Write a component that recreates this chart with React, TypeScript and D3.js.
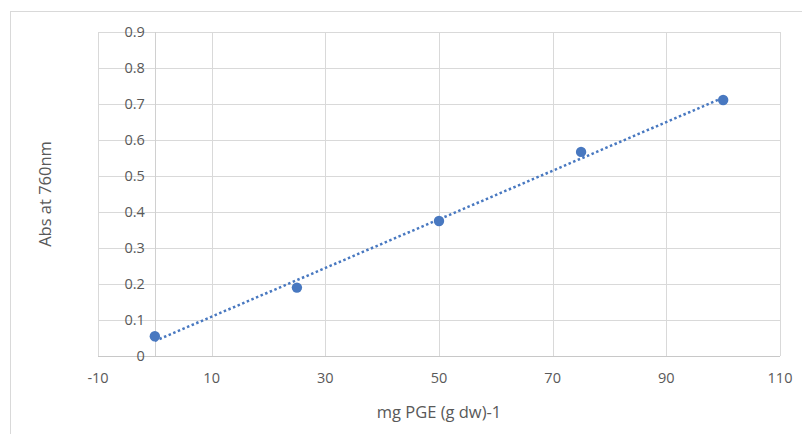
import React, { useEffect, useRef } from "react";
import * as d3 from "d3";

const xValues = [0, 25, 50, 75, 100];
const yValues = [0.055, 0.19, 0.375, 0.567, 0.711];
const xTicks = [-10, 10, 30, 50, 70, 90, 110];
const yTicks = [0, 0.1, 0.2, 0.3, 0.4, 0.5, 0.6, 0.7, 0.8, 0.9];
const xTitle = "mg PGE (g dw)-1";
const yTitle = "Abs at 760nm";

const W = 802;
const H = 434;
const FONT = "'Open Sans', Lato, sans-serif";

export default function App() {
  const ref = useRef<SVGSVGElement>(null);

  useEffect(() => {
    const svg = d3.select(ref.current);
    svg.selectAll("*").remove();

    const margin = { top: 32, left: 98, right: W - 780, bottom: H - 356 };
    const width = W - margin.left - margin.right;
    const height = H - margin.top - margin.bottom;

    // chart frame
    svg.append("rect")
      .attr("x", 10.5)
      .attr("y", 11.5)
      .attr("width", W)
      .attr("height", H)
      .attr("fill", "#fff")
      .attr("stroke", "#d9d9d9");

    const g = svg.append("g")
      .attr("transform", `translate(${margin.left}, ${margin.top})`);

    const x = d3.scaleLinear().domain([-10, 110]).range([0, width]);
    const y = d3.scaleLinear().domain([0, 0.9]).range([height, 0]);

    // grid
    g.selectAll(".vgrid")
      .data(xTicks)
      .join("line")
      .attr("x1", (d) => Math.round(x(d)) + 0.5)
      .attr("x2", (d) => Math.round(x(d)) + 0.5)
      .attr("y1", 0)
      .attr("y2", height)
      .attr("stroke", "#d9d9d9");

    g.selectAll(".hgrid")
      .data(yTicks)
      .join("line")
      .attr("x1", 0)
      .attr("x2", width)
      .attr("y1", (d) => Math.round(y(d)) + 0.5)
      .attr("y2", (d) => Math.round(y(d)) + 0.5)
      .attr("stroke", "#d9d9d9");

    // vertical axis sits at x = 0
    g.append("line")
      .attr("x1", Math.round(x(0)) + 0.5)
      .attr("x2", Math.round(x(0)) + 0.5)
      .attr("y1", 0)
      .attr("y2", height)
      .attr("stroke", "#d0d0d0");

    g.append("line")
      .attr("x1", 0)
      .attr("x2", width)
      .attr("y1", Math.round(y(0)) + 0.5)
      .attr("y2", Math.round(y(0)) + 0.5)
      .attr("stroke", "#c8c8c8");

    // tick labels
    g.selectAll(".ylab")
      .data(yTicks)
      .join("text")
      .attr("x", x(0) - 10)
      .attr("y", (d) => y(d))
      .attr("dy", "0.35em")
      .attr("text-anchor", "end")
      .attr("font-family", FONT)
      .attr("font-size", 14.5)
      .attr("fill", "#595959")
      .text((d) => d3.format("")(+d.toFixed(1)));

    g.selectAll(".xlab")
      .data(xTicks)
      .join("text")
      .attr("x", (d) => x(d))
      .attr("y", height + 22)
      .attr("dy", "0.35em")
      .attr("text-anchor", "middle")
      .attr("font-family", FONT)
      .attr("font-size", 14.5)
      .attr("fill", "#595959")
      .text((d) => d);

    // axis titles
    g.append("text")
      .attr("x", width / 2)
      .attr("y", height + 56)
      .attr("dy", "0.35em")
      .attr("text-anchor", "middle")
      .attr("font-family", FONT)
      .attr("font-size", 16.5)
      .attr("fill", "#595959")
      .text(xTitle);

    g.append("text")
      .attr("transform", `translate(${45 - margin.left}, ${height / 2}) rotate(-90)`)
      .attr("dy", "0.35em")
      .attr("text-anchor", "middle")
      .attr("font-family", FONT)
      .attr("font-size", 16.5)
      .attr("fill", "#595959")
      .text(yTitle);

    // linear trendline (least squares)
    const mx = d3.mean(xValues) as number;
    const my = d3.mean(yValues) as number;
    const slope =
      d3.sum(xValues, (v, i) => (v - mx) * (yValues[i] - my)) /
      d3.sum(xValues, (v) => (v - mx) ** 2);
    const icept = my - slope * mx;
    const xExt = d3.extent(xValues) as [number, number];

    g.append("path")
      .datum(xExt)
      .attr("d", d3.line<number>()
        .x((d) => x(d))
        .y((d) => y(icept + slope * d)))
      .attr("fill", "none")
      .attr("stroke", "#4878c0")
      .attr("stroke-width", 2.5)
      .attr("stroke-dasharray", "2.5 2.5");

    // points
    g.selectAll(".pt")
      .data(xValues)
      .join("circle")
      .attr("cx", (d) => x(d))
      .attr("cy", (d, i) => y(yValues[i]))
      .attr("r", 5.2)
      .attr("fill", "#4878c0");
  }, []);

  return (
    <svg
      ref={ref}
      width={W}
      height={H}
      style={{ position: "absolute", left: 0, top: 0, background: "#fff" }}
    />
  );
}
